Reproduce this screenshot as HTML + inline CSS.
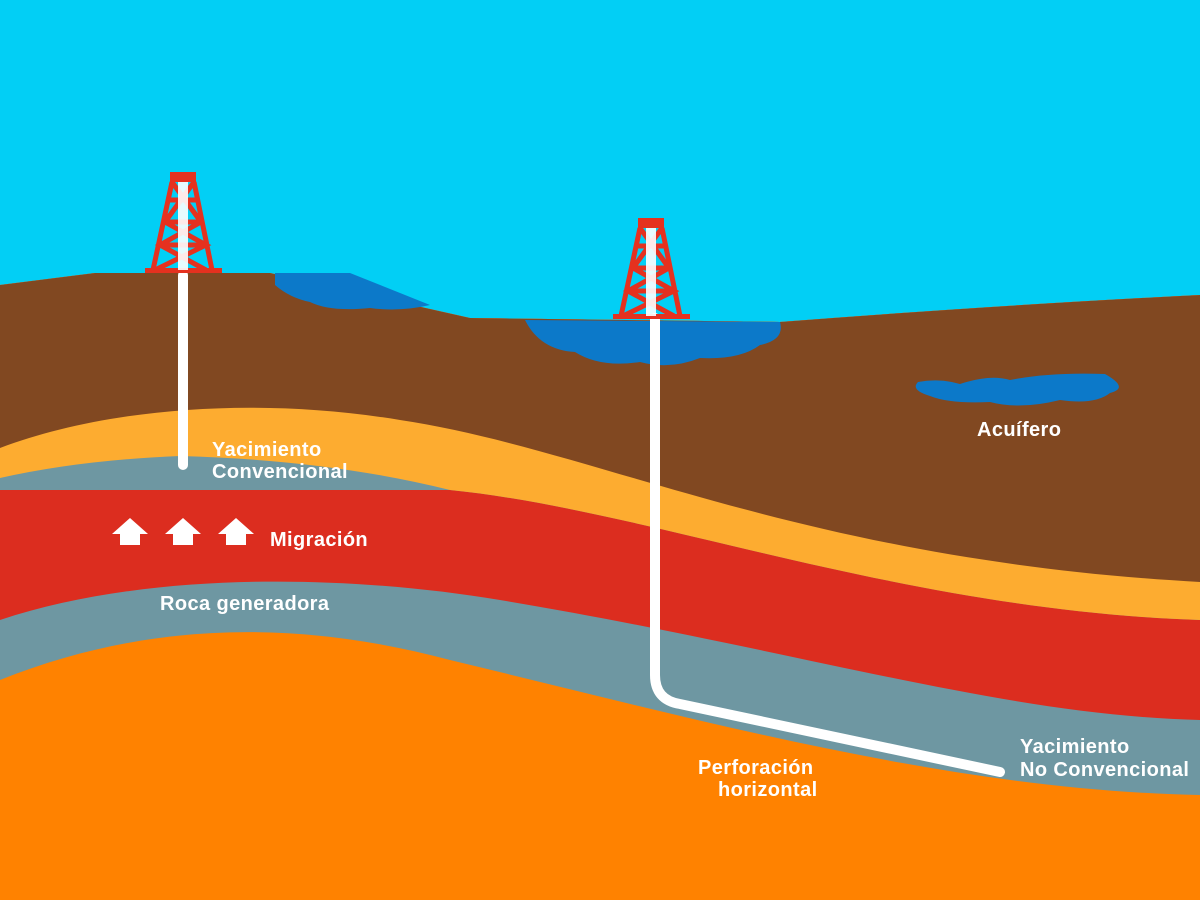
<!DOCTYPE html>
<html><head><style>
body{margin:0;width:1200px;height:900px;overflow:hidden;background:#02cff5}
svg{display:block}
text{font-family:"Liberation Sans",sans-serif;font-size:20px;fill:#fff;font-weight:bold;letter-spacing:0.4px}
</style></head><body>
<svg width="1200" height="900" viewBox="0 0 1200 900">
<rect width="1200" height="900" fill="#02cff5"/>
<path d="M0 285 L95 273 L270 273 L470 318 L780 322 Q1000 305 1200 295 L1200 900 L0 900Z" fill="#ff8200"/>
<path d="M0 285 L95 273 L270 273 L470 318 L780 322 Q1000 305 1200 295 L1200 795 C950 790 700 720 450 660 C300 620 150 620 0 680Z" fill="#6e97a2"/>
<path d="M0 285 L95 273 L270 273 L470 318 L780 322 Q1000 305 1200 295 L1200 720 C1000 715 800 650 500 600 C350 575 150 570 0 620Z" fill="#dc2d1f"/>
<path d="M0 285 L95 273 L270 273 L470 318 L780 322 Q1000 305 1200 295 L1200 620 C900 610 650 510 450 490 L0 490Z" fill="#6e97a2"/>
<path d="M0 285 L95 273 L270 273 L470 318 L780 322 Q1000 305 1200 295 L1200 620 C900 610 650 510 450 490 Q330 460 180 456 Q80 460 0 478Z" fill="#fdac30"/>
<path d="M0 285 L95 273 L270 273 L470 318 L780 322 Q1000 305 1200 295 L1200 582 C800 560 600 450 400 420 C250 395 100 410 0 448Z" fill="#814821"/>
<path d="M275 273 L350 273 L430 305 Q400 312 370 308 Q330 312 310 302 Q290 298 275 285Z" fill="#0c79c9"/>
<path d="M525 320 L780 322 Q785 340 760 345 Q740 360 700 358 Q670 370 640 362 Q600 368 575 352 Q540 350 525 320Z" fill="#0c79c9"/>
<path d="M918 382 Q940 378 960 384 Q990 374 1010 380 Q1050 372 1105 374 Q1130 388 1110 393 Q1095 405 1060 400 Q1020 410 990 402 Q950 404 930 396 Q910 390 918 382Z" fill="#0c79c9"/>
<rect x="178" y="270" width="10" height="200" rx="5" fill="#fff"/>
<path d="M655 318 L655 675 Q655 700 680 704 L1000 772" stroke="#fff" stroke-width="10" fill="none" stroke-linecap="round"/>
<g fill="none" stroke="#e5311f" stroke-width="5">
<rect x="170" y="172" width="26" height="10" fill="#e5311f" stroke="none"/>
<path d="M172 182 L153 270 M194 182 L212 270 M170 200 L196 200 M165 222 L201 222 M160 245 L206 245 M172 182 L201 222 L160 245 L206 270 M194 182 L165 222 L206 245 L155 270"/>
<rect x="145" y="268" width="77" height="5" fill="#e5311f" stroke="none"/>
<rect x="178" y="182" width="10" height="88" fill="#fff" stroke="none" opacity="0.9"/>
</g>
<g transform="translate(468 46)">
<g fill="none" stroke="#e5311f" stroke-width="5">
<rect x="170" y="172" width="26" height="10" fill="#e5311f" stroke="none"/>
<path d="M172 182 L153 270 M194 182 L212 270 M170 200 L196 200 M165 222 L201 222 M160 245 L206 245 M172 182 L201 222 L160 245 L206 270 M194 182 L165 222 L206 245 L155 270"/>
<rect x="145" y="268" width="77" height="5" fill="#e5311f" stroke="none"/>
<rect x="178" y="182" width="10" height="88" fill="#fff" stroke="none" opacity="0.9"/>
</g></g>
<g fill="#fff">
<path d="M130 518 L148 534 L140 534 L140 545 L120 545 L120 534 L112 534Z"/>
<path d="M183 518 L201 534 L193 534 L193 545 L173 545 L173 534 L165 534Z"/>
<path d="M236 518 L254 534 L246 534 L246 545 L226 545 L226 534 L218 534Z"/>
</g>
<text x="212" y="456">Yacimiento</text>
<text x="212" y="478">Convencional</text>
<text x="270" y="546">Migración</text>
<text x="160" y="610">Roca generadora</text>
<text x="977" y="436">Acuífero</text>
<text x="698" y="774">Perforación</text>
<text x="718" y="796">horizontal</text>
<text x="1020" y="753">Yacimiento</text>
<text x="1020" y="776">No Convencional</text>
</svg>
</body></html>
